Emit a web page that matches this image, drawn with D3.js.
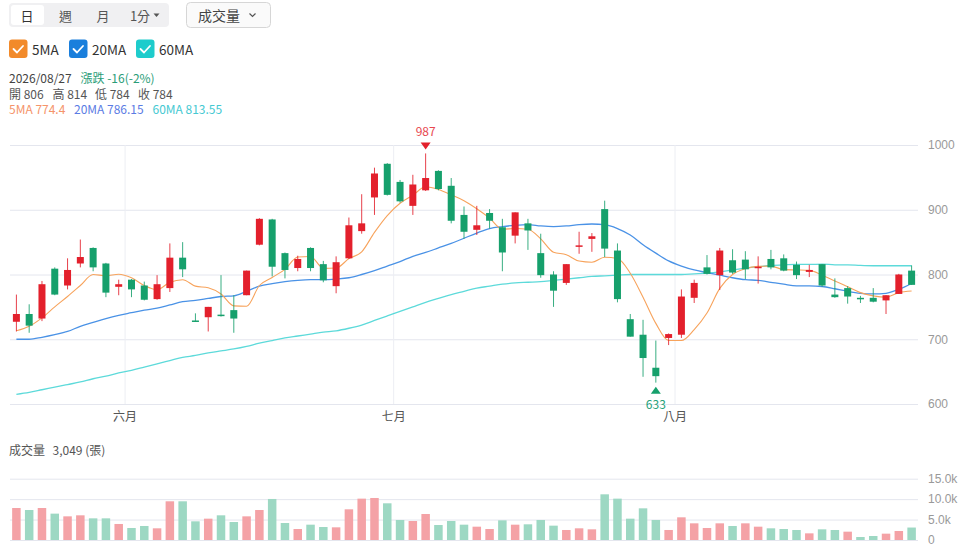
<!DOCTYPE html>
<html lang="zh-Hant">
<head>
<meta charset="UTF-8">
<title>K線圖</title>
<script src="https://cdn.jsdelivr.net/npm/d3@7"></script>
<style>
  body { margin: 0; background: #fff; }
  svg { display: block; font-family: "Noto Sans CJK TC", "Noto Sans", sans-serif; }
</style>
</head>
<body>
<div id="chart"></div>
<script>
// trading days (May 19 - Aug 27, 2026)
const dates = [
  "2026/05/19","2026/05/20","2026/05/21","2026/05/22","2026/05/25","2026/05/26","2026/05/27","2026/05/28","2026/05/29",
  "2026/06/01","2026/06/02","2026/06/03","2026/06/04","2026/06/05","2026/06/08","2026/06/09","2026/06/10","2026/06/11",
  "2026/06/12","2026/06/15","2026/06/16","2026/06/17","2026/06/18","2026/06/22","2026/06/23","2026/06/24","2026/06/25",
  "2026/06/26","2026/06/29","2026/06/30",
  "2026/07/01","2026/07/02","2026/07/03","2026/07/06","2026/07/07","2026/07/08","2026/07/09","2026/07/10","2026/07/13",
  "2026/07/15","2026/07/16","2026/07/17","2026/07/20","2026/07/21","2026/07/22","2026/07/23","2026/07/24","2026/07/27",
  "2026/07/28","2026/07/29","2026/07/30","2026/07/31",
  "2026/08/03","2026/08/04","2026/08/05","2026/08/06","2026/08/07","2026/08/10","2026/08/11","2026/08/12","2026/08/13",
  "2026/08/14","2026/08/17","2026/08/18","2026/08/19","2026/08/20","2026/08/21","2026/08/24","2026/08/25","2026/08/26",
  "2026/08/27"
];
const openP  = [727,739,732,809,783,817,841,817,781,792,783,762,779,826,729,734,738,745,768,846,885,833,810,841,816,
                782,825,867,919,971,943,906,930,960,937,892,869,895,873,860,879,833,800,787,844,855,901,837,731,707,
                656,702,707,764,811,799,822,823,811,824,825,815,804,816,769,779,764,764,760,770,806];
const highP  = [769,754,790,811,825,854,842,818,792,793,789,799,848,850,740,750,799,768,806,887,886,834,829,842,821,
                828,888,924,965,972,946,954,987,961,949,905,906,901,886,896,886,863,805,816,866,864,914,848,739,730,
                698,709,777,792,830,841,839,836,828,838,831,820,815,816,794,782,767,779,768,801,814];
const lowP   = [712,710,728,768,777,811,805,765,768,765,760,761,773,796,727,712,735,710,768,845,797,794,805,805,788,
                771,824,863,892,922,911,892,929,930,879,855,861,871,805,848,838,795,750,784,832,835,827,757,704,642,
                633,691,702,756,800,776,801,793,786,808,805,793,796,781,764,755,756,757,739,770,784];
const closeP = [739,721,785,769,807,827,811,772,785,777,761,785,826,808,728,750,737,732,806,886,812,807,824,810,791,
                819,876,879,956,923,913,939,949,932,883,866,876,883,834,896,868,799,775,816,845,859,840,762,704,671,
                643,708,766,787,801,837,803,808,812,811,806,799,807,783,765,766,763,758,768,800,784];
const volume = [7830,7340,7830,6450,5790,6040,5300,5300,3920,2940,3430,2860,9470,9470,4570,5220,6040,4400,5790,7340,
                10040,4160,2690,3750,3180,3100,7510,10120,10280,8980,4900,4650,6360,3670,4650,3750,3260,2690,4810,3750,
                3840,4900,3510,2450,2860,2610,11180,10120,5220,7750,4900,2450,5550,4080,2940,4080,3430,4080,3260,2860,
                2690,2450,1630,2610,2450,2040,730,980,1550,2200,3049];
const ma5  = [713,720,733,750,766,783,800,798,800.5,795,783,776.5,788,792,782,779.5,769.8,751.5,751,783,
              795.5,808,827,827.8,809.5,810,824.5,835,865,891,910,922.4,935.5,931.4,923,914,901.5,887,870,871,
              870,855,834.4,830.6,820.8,819,826.6,824.6,802,765,724.5,698,698,715,740.5,778.5,800,809,812.5,813,
              807.5,807,806.3,799,790,781,772,767,765,772,774.4];
const ma20 = [700,700,703,707,712,720,726,732,737,741,745,748,753,758,760,763,766,767,774,782,
              786,789,791,792,792,793,795,800,806,813,820,828,834,841,848,856,864,871,874,876,
              877,875,874,875,877,878,877,871,861,846,833,821,813,807,803,799,795,792,791,788,
              785,782.5,782.5,781.5,778,774,771,770,771,777,786.15];
const ma60 = [615,618,622,626,630,634,639,643,648,652,657,662,667,672,675,679,682,685,689,694,
              698,702,705,708,711,713,717,722,729,736,743,750,757,763,769,774,779,782,785,787,
              788,789,791,793,795,797,798,799,800,800,800,800,800,801,802,804,807,810,812,814,
              815,815.5,815.5,816,815,815,814,813.5,813.5,813.5,813.55];
const priceTicks = [600, 700, 800, 900, 1000];
const volTicks = [0, 5000, 10000, 15000];
const monthNames = ["一月","二月","三月","四月","五月","六月","七月","八月","九月","十月","十一月","十二月"];

const UP = "#e3202c", DOWN = "#16a06c";
const UP_VOL = "#f4a2a6", DOWN_VOL = "#9dd8c3";
const C5 = "#f7a35c", C20 = "#4a92e6", C60 = "#5ddada";

const svg = d3.select("#chart").append("svg")
    .attr("width", 966)
    .attr("height", 556);

// ---------- header controls ----------
const hdr = svg.append("g");
hdr.append("rect").attr("x", 9).attr("y", 3).attr("width", 160).attr("height", 24).attr("rx", 4).attr("fill", "#f0f0f2");
hdr.append("rect").attr("x", 11).attr("y", 5).attr("width", 33).attr("height", 20).attr("rx", 3).attr("fill", "#fff");
[["日", 27, "#333"], ["週", 65.5, "#555"], ["月", 103, "#555"], ["1分", 140, "#555"]].forEach(t => {
  hdr.append("text").attr("x", t[1]).attr("y", 15).attr("text-anchor", "middle")
     .attr("dominant-baseline", "central").attr("font-size", 13).attr("fill", t[2]).text(t[0]);
});
hdr.append("path").attr("d", "M153.5,13.5 L159.5,13.5 L156.5,17 Z").attr("fill", "#555");

hdr.append("rect").attr("x", 186.5).attr("y", 2.5).attr("width", 84).attr("height", 25).attr("rx", 4)
   .attr("fill", "#fafafa").attr("stroke", "#d6d6d6");
hdr.append("text").attr("x", 198).attr("y", 15).attr("dominant-baseline", "central")
   .attr("font-size", 14).attr("fill", "#444").text("成交量");
hdr.append("path").attr("d", "M249.5,13.5 L252.5,16.5 L255.5,13.5").attr("fill", "none")
   .attr("stroke", "#555").attr("stroke-width", 1.2);

// MA toggles
[["5MA", 9, "#f28a2a"], ["20MA", 69, "#1a7fdc"], ["60MA", 136, "#1ecccc"]].forEach(t => {
  hdr.append("rect").attr("x", t[1]).attr("y", 39.5).attr("width", 18.5).attr("height", 18.5).attr("rx", 3).attr("fill", t[2]);
  hdr.append("path").attr("d", `M${t[1] + 4.5},${49} l3.5,3.5 l6,-6.5`).attr("fill", "none")
     .attr("stroke", "#fff").attr("stroke-width", 1.8).attr("stroke-linecap", "round").attr("stroke-linejoin", "round");
  hdr.append("text").attr("x", t[1] + 23).attr("y", 49).attr("dominant-baseline", "central")
     .attr("font-size", 13.5).attr("fill", "#333").text(t[0]);
});

// last day info
const last = dates.length - 1;
const chg = closeP[last] - closeP[last - 1];
const pct = Math.round(chg / closeP[last - 1] * 100);
const info = [
  [dates[last], 9, 77.5, "#444"],
  [`漲跌 ${chg}(${pct}%)`, 80.5, 77.5, "#2a9d78"],
  [`開 ${openP[last]}`, 9, 93, "#555"],
  [`高 ${highP[last]}`, 52.5, 93, "#555"],
  [`低 ${lowP[last]}`, 95, 93, "#555"],
  [`收 ${closeP[last]}`, 138, 93, "#555"],
  [`5MA ${ma5[last]}`, 9, 108.5, "#f5946a"],
  [`20MA ${ma20[last]}`, 74, 108.5, "#5b7ce4"],
  [`60MA ${ma60[last]}`, 152.5, 108.5, "#45c9d2"]
];
info.forEach(t => {
  hdr.append("text").attr("x", t[1]).attr("y", t[2]).attr("dominant-baseline", "central")
     .attr("font-size", 12).attr("fill", t[3]).text(t[0]);
});

// ---------- price chart ----------
const x = d3.scaleBand().domain(dates).range([10, 918]);
const cx = d => x(d) + x.bandwidth() / 2;
const y = d3.scaleLinear().domain([600, 1000]).range([404, 145]);

const yAxis = svg.append("g")
    .attr("transform", "translate(918,0)")
    .call(d3.axisRight(y).tickValues(priceTicks).tickSize(-908).tickPadding(10).tickFormat(d3.format("d")));
yAxis.select(".domain").remove();
yAxis.selectAll("line").attr("stroke", "#e4e6ee");
yAxis.selectAll("text").attr("fill", "#999").attr("font-size", 12).attr("font-family", null);

// month boundaries
const monthStarts = dates.filter((d, i) => i > 0 && d.slice(5, 7) !== dates[i - 1].slice(5, 7));
monthStarts.forEach(d => {
  svg.append("line").attr("x1", x(d)).attr("x2", x(d)).attr("y1", 145).attr("y2", 404)
     .attr("stroke", "#eceef3");
  svg.append("text").attr("x", x(d)).attr("y", 415).attr("text-anchor", "middle")
     .attr("dominant-baseline", "central").attr("font-size", 12).attr("fill", "#555")
     .text(monthNames[+d.slice(5, 7) - 1]);
});

// MA lines
[[ma60, C60, 1.3], [ma20, C20, 1.3], [ma5, C5, 1.1]].forEach(m => {
  svg.append("path")
     .datum(m[0])
     .attr("fill", "none")
     .attr("stroke", m[1])
     .attr("stroke-width", m[2])
     .attr("d", d3.line().curve(d3.curveMonotoneX).x((v, i) => cx(dates[i])).y(v => y(v)));
});

// candles
const candles = svg.append("g").selectAll("g")
  .data(dates)
  .join("g");
candles.append("line")
    .attr("x1", d => cx(d)).attr("x2", d => cx(d))
    .attr("y1", (d, i) => y(highP[i])).attr("y2", (d, i) => y(lowP[i]))
    .attr("stroke", (d, i) => closeP[i] >= openP[i] ? UP : DOWN)
    .attr("stroke-opacity", 0.85);
candles.append("rect")
    .attr("x", d => cx(d) - 3.5)
    .attr("width", 7)
    .attr("y", (d, i) => y(Math.max(openP[i], closeP[i])))
    .attr("height", (d, i) => Math.max(1.5, Math.abs(y(openP[i]) - y(closeP[i]))))
    .attr("fill", (d, i) => closeP[i] >= openP[i] ? UP : DOWN);

// high / low markers
const hi = d3.maxIndex(highP), lo = d3.minIndex(lowP);
const hx = cx(dates[hi]), lx = cx(dates[lo]);
svg.append("path").attr("d", `M${hx - 5},${y(highP[hi]) - 11} L${hx + 5},${y(highP[hi]) - 11} L${hx},${y(highP[hi]) - 4} Z`)
   .attr("fill", UP);
svg.append("text").attr("x", hx).attr("y", y(highP[hi]) - 23).attr("text-anchor", "middle")
   .attr("dominant-baseline", "central").attr("font-size", 12).attr("fill", "#e8474f").text(highP[hi]);
svg.append("path").attr("d", `M${lx - 5},${y(lowP[lo]) + 11} L${lx + 5},${y(lowP[lo]) + 11} L${lx},${y(lowP[lo]) + 4} Z`)
   .attr("fill", DOWN);
svg.append("text").attr("x", lx).attr("y", y(lowP[lo]) + 21).attr("text-anchor", "middle")
   .attr("dominant-baseline", "central").attr("font-size", 12).attr("fill", "#26a17a").text(lowP[lo]);

// ---------- volume chart ----------
svg.append("text").attr("x", 9).attr("y", 449).attr("dominant-baseline", "central")
   .attr("font-size", 12).attr("fill", "#555").text("成交量");
svg.append("text").attr("x", 52.5).attr("y", 449).attr("dominant-baseline", "central")
   .attr("font-size", 12).attr("fill", "#555").text(`${d3.format(",")(volume[last])} (張)`);

const yv = d3.scaleLinear().domain([0, 15000]).range([540, 478.7]);
const vAxis = svg.append("g")
    .attr("transform", "translate(918,0)")
    .call(d3.axisRight(yv).tickValues(volTicks).tickSize(-908).tickPadding(10)
      .tickFormat(v => v === 0 ? "0" : (v / 1000).toFixed(1) + "k"));
vAxis.select(".domain").remove();
vAxis.selectAll("line").attr("stroke", "#e4e6ee");
vAxis.selectAll("text").attr("fill", "#999").attr("font-size", 12).attr("font-family", null);

svg.append("g").selectAll("rect")
  .data(dates)
  .join("rect")
    .attr("x", d => cx(d) - 4.25)
    .attr("width", 8.5)
    .attr("y", (d, i) => yv(volume[i]))
    .attr("height", (d, i) => yv(0) - yv(volume[i]))
    .attr("fill", (d, i) => (i === 0 ? closeP[i] >= openP[i] : closeP[i] >= closeP[i - 1]) ? UP_VOL : DOWN_VOL);
</script>
</body>
</html>
